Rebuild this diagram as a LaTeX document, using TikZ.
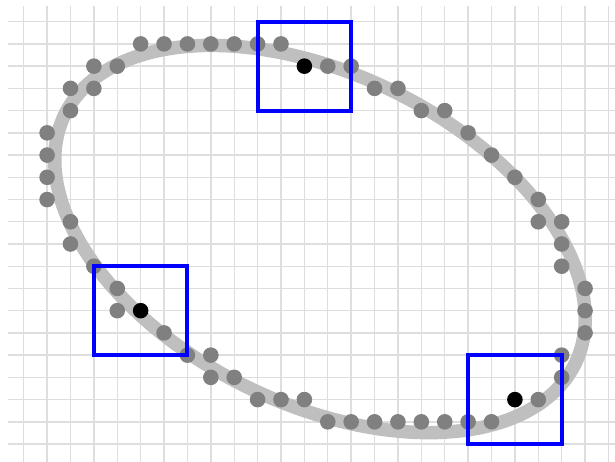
\documentclass[tikz,border=0pt]{standalone}
\usepackage{tikz}
\definecolor{gridc}{HTML}{DEDEDE}
\definecolor{bandc}{HTML}{BFBFBF}
\definecolor{dotc}{HTML}{808080}
\definecolor{boxc}{HTML}{0000FF}
\tikzset{
  gridline/.style={draw=gridc, line width=1.4pt},
  band/.style={draw=bandc, line width=13.5pt},
  graydot/.style={fill=dotc},
  blackdot/.style={fill=black},
  window/.style={draw=boxc, line width=4pt},
}
\newcommand{\gx}[1]{23.7+23.39*#1}
\newcommand{\gy}[1]{21.7+22.23*#1}
\begin{document}
\begin{tikzpicture}[x=1pt,y=-1pt]
\useasboundingbox (0,0) rectangle (615,462);
% grid
\foreach \k in {0,...,25} \draw[gridline] ({\gx{\k}},6) -- ({\gx{\k}},462);
\foreach \j in {0,...,19} \draw[gridline] (7.5,{\gy{\j}}) -- (615,{\gy{\j}});
% ellipse band
\draw[band] plot[domain=0:354, samples=60, smooth cycle]
  ({320+284*cos(26)*cos(\x)-165*sin(26)*sin(\x)},{239+284*sin(26)*cos(\x)+165*cos(26)*sin(\x)});
% gray dots
\foreach \c/\r in {5/1,6/1,7/1,8/1,9/1,10/1,11/1,
  3/2,4/2,13/2,14/2,
  2/3,3/3,15/3,16/3,
  2/4,17/4,18/4,
  1/5,19/5, 1/6,20/6, 1/7,21/7, 1/8,22/8,
  2/9,22/9,23/9, 2/10,23/10, 3/11,23/11, 4/12,24/12,
  4/13,24/13, 6/14,24/14, 7/15,8/15,23/15, 8/16,9/16,23/16,
  10/17,11/17,12/17,22/17,
  13/18,14/18,15/18,16/18,17/18,18/18,19/18,20/18}
  \fill[graydot] ({\gx{\c}},{\gy{\r}}) circle (7.8);
% black dots
\foreach \c/\r in {12/2,5/13,21/17}
  \fill[blackdot] ({\gx{\c}},{\gy{\r}}) circle (7.8);
% blue windows
\draw[window] ({\gx{10}},{\gy{0}}) rectangle ({\gx{14}},{\gy{4}});
\draw[window] ({\gx{3}},{\gy{11}}) rectangle ({\gx{7}},{\gy{15}});
\draw[window] ({\gx{19}},{\gy{15}}) rectangle ({\gx{23}},{\gy{19}});
\end{tikzpicture}
\end{document}
